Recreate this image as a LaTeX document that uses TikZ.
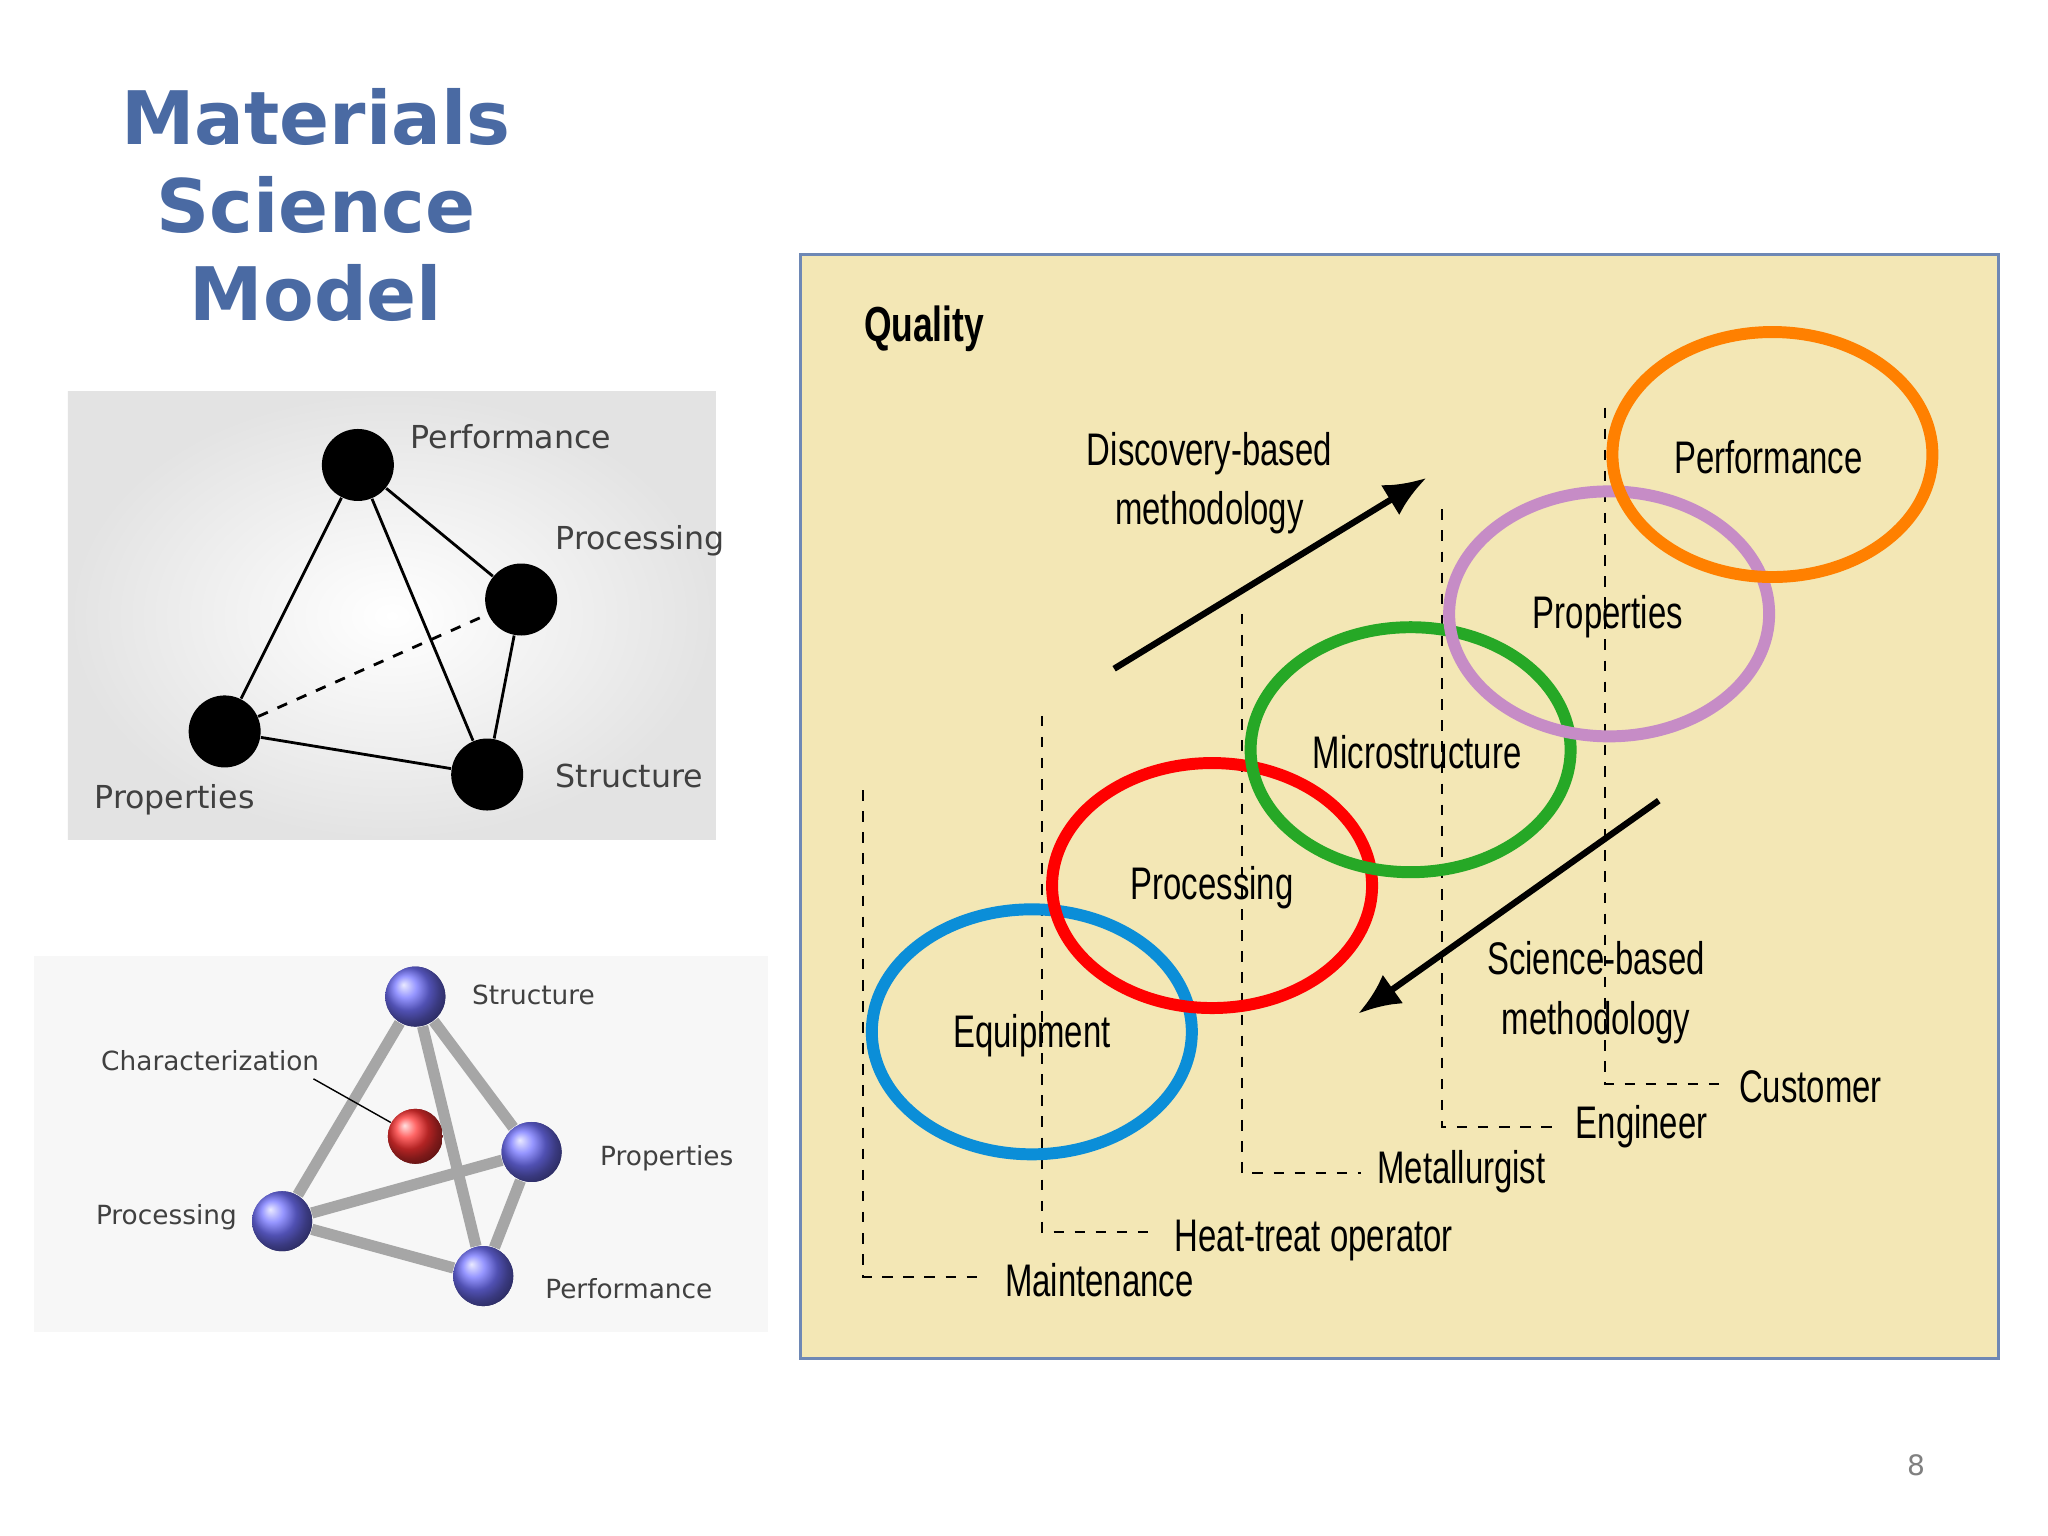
\documentclass[tikz,border=0pt]{standalone}
\usepackage{fontspec}
\setmainfont{DejaVu Sans}
\newfontfamily\cond[FakeStretch=0.72]{Liberation Sans}
\newfontfamily\verd{DejaVu Sans}
\usetikzlibrary{shapes.geometric,arrows.meta,shadings}
\definecolor{ttl}{HTML}{4A6AA3}
\definecolor{paper}{HTML}{F3E7B5}
\begin{document}
\begin{tikzpicture}[x=0.01306cm,y=-0.01306cm,
  blk/.style={circle,fill=black,minimum size=0.72cm,inner sep=0},
  lbl/.style={font=\verd\fontsize{9}{10}\selectfont,text=black!75},
  ball/.style={circle,inner sep=0,minimum size=0.6cm,ball color=blue!55!white},
  rod/.style={line width=3.2pt,color=gray!70},
  ring/.style={ellipse,line width=3.4pt,minimum width=3.2cm,minimum height=2.45cm,draw},
  ct/.style={font=\cond\fontsize{13}{15}\selectfont},
  dsh/.style={dashed,line width=0.6pt},
  arr/.style={line width=1.8pt,-{Latex[length=12pt,width=10pt]}}]
\useasboundingbox (0,0) rectangle (1568,1176);
\fill[white] (0,0) rectangle (1568,1176);
% title
\node[font=\verd\bfseries\fontsize{21}{25}\selectfont,text=ttl,align=center] (title) at (242,157) {Materials\\Science\\Model};
% panel 1
\shade[inner color=white,outer color=gray!22] (52,300) rectangle (548,643);
\node[blk] (pf) at (274,356) {};
\node[blk] (pc) at (399,459) {};
\node[blk] (st) at (373,593) {};
\node[blk] (pp) at (172,560) {};
\draw[thick] (pf)--(pp) (pf)--(pc) (pf)--(st) (pc)--(st) (pp)--(st);
\draw[thick,dashed] (pp)--(pc);
\node[lbl,anchor=west] at (305,334) {Performance};
\node[lbl,anchor=west] at (416,414) {Processing};
\node[lbl,anchor=west] at (416,594) {Structure};
\node[lbl,anchor=west] at (63,612) {Properties};
% panel 2
\fill[gray!6] (26,732) rectangle (588,1020);
\node[ball] (b1) at (318,763) {};
\node[ball] (b2) at (407,882) {};
\node[ball] (b3) at (216,935) {};
\node[ball] (b4) at (370,977) {};
\node[circle,inner sep=0,minimum size=0.55cm,ball color=red!80] (b5) at (318,870) {};
\begin{scope}[on background layer/.style={}]
\draw[rod] (b1)--(b2) (b1)--(b3) (b1)--(b4) (b2)--(b3) (b2)--(b4) (b3)--(b4);
\end{scope}
\node[ball] at (b1) {}; \node[ball] at (b2) {}; \node[ball] at (b3) {}; \node[ball] at (b4) {};
\node[circle,inner sep=0,minimum size=0.55cm,ball color=red!80] at (b5) {};
\node[lbl,font=\verd\fontsize{7.5}{9}\selectfont,anchor=west] at (352,762) {Structure};
\node[lbl,font=\verd\fontsize{7.5}{9}\selectfont,anchor=west] at (450,887) {Properties};
\node[lbl,font=\verd\fontsize{7.5}{9}\selectfont,anchor=west] at (64,932) {Processing};
\node[lbl,font=\verd\fontsize{7.5}{9}\selectfont,anchor=west] at (408,987) {Performance};
\node[lbl,font=\verd\fontsize{7.5}{9}\selectfont,anchor=west] (ch) at (68,812) {Characterization};
\draw[thin] (240,826)--(b5);
% panel 3
\draw[fill=paper,draw=ttl!80,line width=1pt] (613,195) rectangle (1530,1040);
\node[font=\cond\bfseries\fontsize{14}{16}\selectfont,anchor=west] (q) at (652,252) {Quality};
\draw[dsh] (661,605)--(661,978)--(752,978);
\draw[dsh] (798,548)--(798,943)--(887,943);
\draw[dsh] (951,470)--(951,898)--(1042,898);
\draw[dsh] (1104,390)--(1104,863)--(1194,863);
\draw[dsh] (1229,312)--(1229,830)--(1320,830);
\node[ring,draw=cyan!75!blue] (e1) at (790,790) {};
\node[ring,draw=red] (e2) at (928,678) {};
\node[ring,draw=green!60!black!85] (e3) at (1080,574) {};
\node[ring,draw=violet!45] (e4) at (1232,470) {};
\node[ring,draw=orange] (e5) at (1357,348) {};
\node[ct] at (790,793) {Equipment};
\node[ct] at (928,680) {Processing};
\node[ct] at (1085,576) {Microstructure};
\node[ct] at (1231,472) {Properties};
\node[ct] at (1354,350) {Performance};
\node[ct,anchor=west] at (760,980) {Maintenance};
\node[ct,anchor=west] at (890,950) {Heat-treat operator};
\node[ct,anchor=west] at (1045,897) {Metallurgist};
\node[ct,anchor=west] at (1197,863) {Engineer};
\node[ct,anchor=west] at (1322,832) {Customer};
\coordinate (d1) at (853,512); \coordinate (d2) at (1092,366);
\coordinate (s1) at (1270,613); \coordinate (s2) at (1040,776);
\draw[arr] (d1)--(d2);
\draw[arr] (s1)--(s2);
\node[ct,align=center,font=\cond\fontsize{13}{17}\selectfont] at (926,370) {Discovery-based\\methodology};
\node[ct,align=center,font=\cond\fontsize{13}{17}\selectfont] at (1222,760) {Science-based\\methodology};
\node[text=gray,font=\fontsize{8}{9}\selectfont] (pg) at (1467,1122) {8};
\end{tikzpicture}
\end{document}
